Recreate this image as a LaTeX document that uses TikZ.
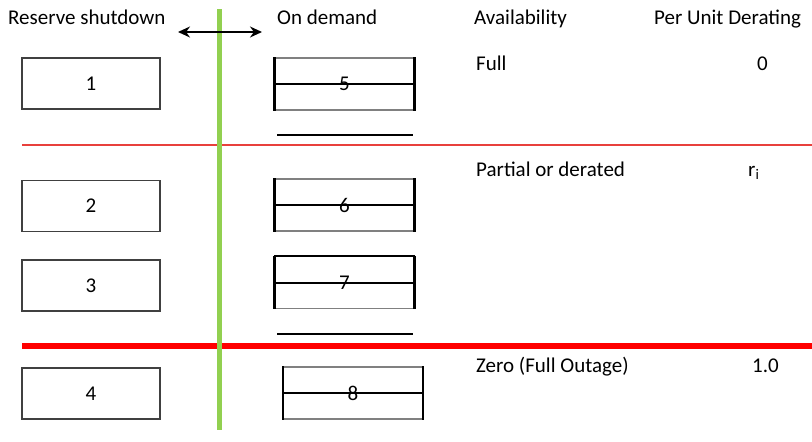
\documentclass[tikz,border=0pt]{standalone}
\usepackage{fontspec}
\setmainfont{Carlito}
\usetikzlibrary{arrows.meta}
\definecolor{grn}{HTML}{92D050}
\definecolor{thinred}{HTML}{E8403C}
\definecolor{boxgray}{HTML}{404040}
\begin{document}
\begin{tikzpicture}[x=1pt,y=-1pt,
  every node/.style={font=\fontsize{21}{25}\selectfont, text=black},
  lbl/.style={anchor=base west, inner sep=0pt},
  leftbox/.style={draw=boxgray, line width=1.1pt, minimum width=138pt, minimum height=51pt, inner sep=0pt},
  rightbox/.style={draw=gray, line width=1.2pt, minimum width=139pt, minimum height=52pt, inner sep=0pt},
  side/.style={black, line width=2.4pt},
  midline/.style={black, line width=2pt},
  uline/.style={black, line width=2pt}
]
\useasboundingbox[fill=white] (0,0) rectangle (812,442);

% headers
\node[lbl] (hres) at (8,24) {Reserve shutdown};
\node[lbl] (hdem) at (277,24) {On demand};
\node[lbl] (havl) at (474,24) {Availability};
\node[lbl] (hder) at (654,24) {Per Unit Derating};

% availability texts
\node[lbl] (tfull) at (476,70) {Full};
\node[lbl] (tzero1) at (757,70) {0};
\node[lbl] (tpart) at (476,176) {Partial or derated};
\node[lbl] (tri) at (748,176) {r\textsubscript{i}};
\node[lbl] (tzero) at (476,372) {Zero (Full Outage)};
\node[lbl] (tone) at (752,372) {1.0};

% horizontal red lines
\coordinate (rt1) at (22,145);
\coordinate (rt2) at (812,145);
\coordinate (rk1) at (22,346);
\coordinate (rk2) at (812,346);
\draw[thinred, line width=1.1pt] (rt1) -- (rt2);
\draw[red, line width=5.5pt] (rk1) -- (rk2);

% left boxes
\node[leftbox] (b1) at (91,83.5) {1};
\node[leftbox] (b2) at (91,206) {2};
\node[leftbox] (b3) at (91,285.5) {3};
\node[leftbox] (b4) at (91,393.5) {4};

% right boxes
\node[rightbox] (b5) at (344.5,84) {5};
\node[rightbox] (b6) at (344.5,205) {6};
\node[rightbox] (b7) at (344.5,282.5) {7};
\node[rightbox] (b8) at (353,393) {8};
\foreach \b in {b5,b6,b7,b8}{
  \draw[side] (\b.north west) -- (\b.south west);
  \draw[side] (\b.north east) -- (\b.south east);
  \draw[midline] (\b.west) -- (\b.east);
}
\draw[black, line width=2.2pt] (b7.north west) -- (b7.north east);

% underlines
\coordinate (u1a) at (277,135);
\coordinate (u1b) at (413,135);
\coordinate (u2a) at (277,334);
\coordinate (u2b) at (413,334);
\draw[uline] (u1a) -- (u1b);
\draw[uline] (u2a) -- (u2b);

% green divider
\coordinate (g1) at (219.5,9);
\coordinate (g2) at (219.5,430);
\draw[grn, line width=5pt] (g1) -- (g2);

% arrow
\coordinate (a1) at (178,32);
\coordinate (a2) at (262,32);
\draw[black, line width=1.5pt, {Stealth[length=12pt,width=11pt]}-{Stealth[length=12pt,width=11pt]}] (a1) -- (a2);
\end{tikzpicture}
\end{document}
